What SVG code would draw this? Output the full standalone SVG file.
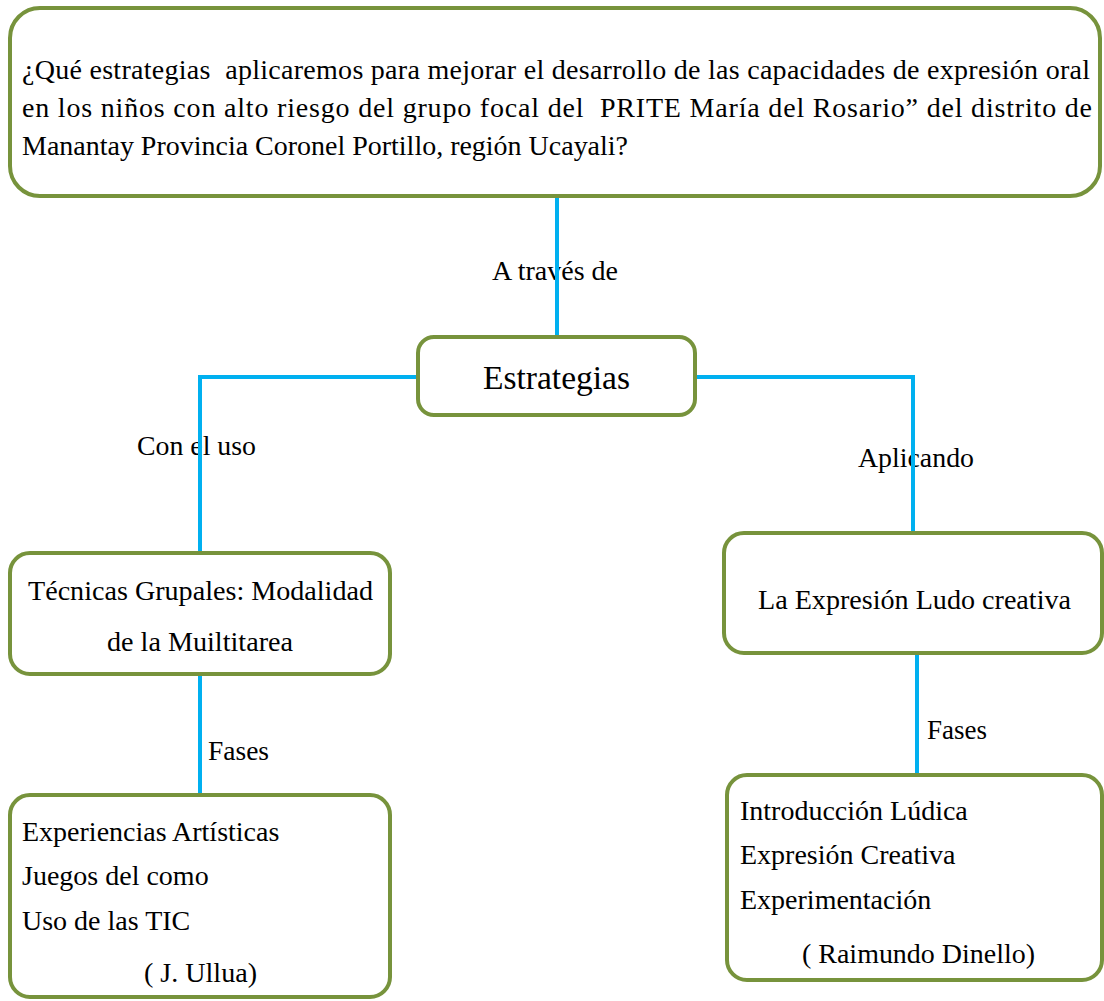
<svg xmlns="http://www.w3.org/2000/svg" width="1104" height="1001" viewBox="0 0 1104 1001">
<style>
  .node { fill: #FFFFFF; stroke: #77933C; stroke-width: 4; }
  .conn { fill: none; stroke: #00B0F0; stroke-width: 4; }
  text { font-family: "Liberation Serif", "Times New Roman", serif; font-size: 28px; fill: #000000; }
  .big { font-size: 34px; }
</style>
<rect width="1104" height="1001" fill="#FFFFFF"/>
<g id="labels">
  <text x="492" y="280" textLength="126" lengthAdjust="spacingAndGlyphs">A través de</text>
  <text x="137" y="455" textLength="119" lengthAdjust="spacingAndGlyphs">Con el uso</text>
  <text x="858" y="467" textLength="116" lengthAdjust="spacingAndGlyphs">Aplicando</text>
  <text x="208" y="760" textLength="61" lengthAdjust="spacingAndGlyphs">Fases</text>
  <text x="927" y="739" textLength="60" lengthAdjust="spacingAndGlyphs">Fases</text>
</g>
<g id="connectors">
  <line class="conn" x1="557" y1="196" x2="557" y2="337"/>
  <polyline class="conn" points="418,377 200,377 200,553"/>
  <polyline class="conn" points="695,377 913,377 913,533"/>
  <line class="conn" x1="200" y1="674" x2="200" y2="795"/>
  <line class="conn" x1="917" y1="653" x2="917" y2="775"/>
</g>
<g id="node-pregunta">
  <rect class="node" x="10" y="8" width="1090" height="188" rx="30"/>
  <text x="22" y="79" textLength="1068" lengthAdjust="spacing" xml:space="preserve">¿Qué estrategias  aplicaremos para mejorar el desarrollo de las capacidades de expresión oral</text>
  <text x="22" y="117" textLength="1070" lengthAdjust="spacing" xml:space="preserve">en los niños con alto riesgo del grupo focal del  PRITE María del Rosario” del distrito de</text>
  <text x="22" y="155" textLength="606" lengthAdjust="spacingAndGlyphs">Manantay Provincia Coronel Portillo, región Ucayali?</text>
</g>
<g id="node-estrategias">
  <rect class="node" x="418" y="337" width="277" height="78" rx="16"/>
  <text class="big" x="483" y="389" textLength="147" lengthAdjust="spacingAndGlyphs">Estrategias</text>
</g>
<g id="node-tecnicas">
  <rect class="node" x="10" y="553" width="380" height="121" rx="20"/>
  <text x="28" y="600" textLength="345" lengthAdjust="spacingAndGlyphs">Técnicas Grupales: Modalidad</text>
  <text x="107" y="651" textLength="186" lengthAdjust="spacingAndGlyphs">de la Muiltitarea</text>
</g>
<g id="node-ludo">
  <rect class="node" x="724" y="533" width="378" height="120" rx="20"/>
  <text x="758" y="609" textLength="313" lengthAdjust="spacingAndGlyphs">La Expresión Ludo creativa</text>
</g>
<g id="node-fases-izq">
  <rect class="node" x="10" y="795" width="380" height="202" rx="20"/>
  <text x="22" y="841">Experiencias Artísticas</text>
  <text x="22" y="885">Juegos del como</text>
  <text x="22" y="930">Uso de las TIC</text>
  <text x="144" y="982" textLength="113" lengthAdjust="spacingAndGlyphs">( J. Ullua)</text>
</g>
<g id="node-fases-der">
  <rect class="node" x="727" y="775" width="375" height="205" rx="20"/>
  <text x="740" y="820">Introducción Lúdica</text>
  <text x="740" y="864">Expresión Creativa</text>
  <text x="740" y="909">Experimentación</text>
  <text x="802" y="963" textLength="233" lengthAdjust="spacingAndGlyphs">( Raimundo Dinello)</text>
</g>
</svg>
